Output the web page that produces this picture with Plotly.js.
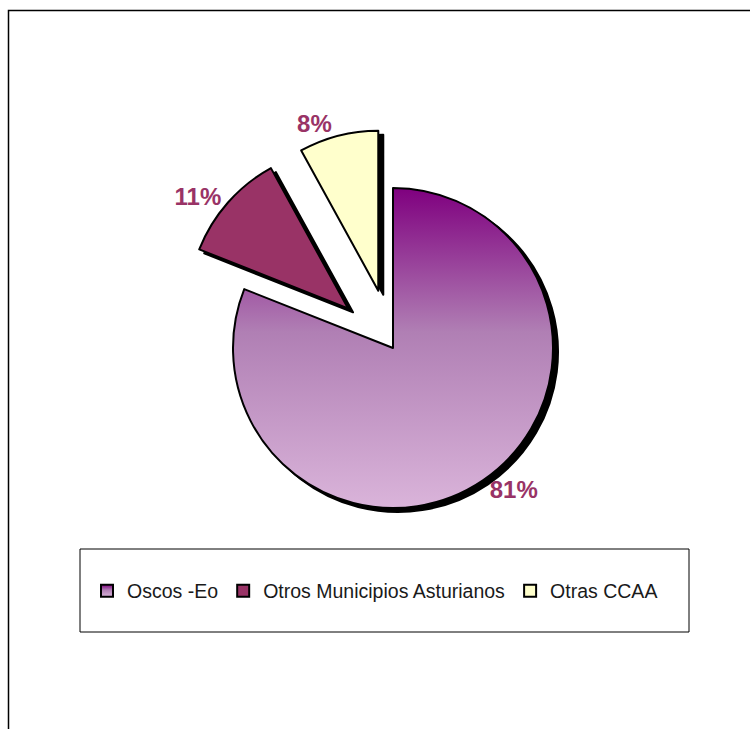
<!DOCTYPE html>
<html>
<head>
<meta charset="utf-8">
<script src="https://cdn.plot.ly/plotly-3.0.1.min.js"></script>
<style>
  html, body { margin: 0; padding: 0; background: #fff; }
  #chart { width: 750px; height: 729px; }
</style>
</head>
<body>
<div id="chart"></div>
<script>
// ---- data ----
const labels = ["Oscos -Eo", "Otros Municipios Asturianos", "Otras CCAA"];
const values = [81, 11, 8];
const sliceColors = ["#b185b6", "#993366", "#ffffcc"];
const pulls = [0, 0.375, 0.37];

// ---- geometry (pixels) ----
const W = 750, H = 729;
const cx = 393, cy = 348, r = 160;
const half = r * (1 + Math.max(...pulls));
const dom = (ox, oy) => ({
  x: [(cx + ox - half) / W, (cx + ox + half) / W],
  y: [1 - (cy + oy + half) / H, 1 - (cy + oy - half) / H]
});

const font = "Liberation Sans, Arial, sans-serif";

const shadow = {
  type: "pie",
  labels: labels,
  values: values,
  pull: pulls,
  sort: false,
  direction: "clockwise",
  rotation: 0,
  domain: dom(5, 4),
  marker: { colors: labels.map(() => "#000000"), line: { color: "#000000", width: 2 } },
  textinfo: "none",
  hoverinfo: "skip",
  showlegend: false
};

const main = {
  type: "pie",
  labels: labels,
  values: values,
  pull: pulls,
  sort: false,
  direction: "clockwise",
  rotation: 0,
  domain: dom(0, 0),
  marker: { colors: sliceColors, line: { color: "#000000", width: 2 } },
  texttemplate: "%{percent:.0%}",
  textposition: "outside",
  outsidetextfont: { family: font, size: 24, color: "#993366", weight: "bold" },
  hoverinfo: "label+percent",
  showlegend: true
};

const layout = {
  width: W,
  height: H,
  margin: { l: 0, r: 0, t: 0, b: 0 },
  paper_bgcolor: "#ffffff",
  plot_bgcolor: "#ffffff",
  showlegend: true,
  legend: {
    orientation: "h",
    x: 0.5, xanchor: "center",
    y: 1 - 591 / H, yanchor: "middle",
    bgcolor: "rgba(0,0,0,0)",
    borderwidth: 0,
    font: { family: font, size: 19.5, color: "#1a1a1a" },
    traceorder: "normal"
  },
  shapes: [
    { type: "rect", xref: "paper", yref: "paper",
      x0: 80 / W, x1: 689 / W, y0: 1 - 632 / H, y1: 1 - 549 / H,
      line: { color: "#000000", width: 1 }, fillcolor: "rgba(0,0,0,0)" },
    { type: "rect", xref: "paper", yref: "paper",
      x0: 8.5 / W, x1: 1.05, y0: -0.05, y1: 1 - 10.5 / H,
      line: { color: "#000000", width: 1.5 }, fillcolor: "rgba(0,0,0,0)" }
  ]
};

function applyGradient(gd) {
  const svg = gd.querySelector("svg.main-svg");
  if (!svg) return;
  let defs = svg.querySelector("defs");
  if (!defs) { defs = document.createElementNS("http://www.w3.org/2000/svg", "defs"); svg.insertBefore(defs, svg.firstChild); }
  if (!svg.querySelector("#oscosGrad")) {
    const g = document.createElementNS("http://www.w3.org/2000/svg", "linearGradient");
    g.setAttribute("id", "oscosGrad");
    g.setAttribute("x1", "0"); g.setAttribute("y1", "0");
    g.setAttribute("x2", "0"); g.setAttribute("y2", "1");
    [["0", "#7f007f"], ["0.45", "#b07fb4"], ["1", "#dab4da"]].forEach(([o, c]) => {
      const s = document.createElementNS("http://www.w3.org/2000/svg", "stop");
      s.setAttribute("offset", o); s.setAttribute("stop-color", c);
      g.appendChild(s);
    });
    defs.appendChild(g);
  }
  const pies = Array.from(gd.querySelectorAll(".pielayer g.trace"));
  if (pies.length >= 2) {
    const slice = pies[1].querySelector("g.slice path.surface");
    if (slice) slice.style.fill = "url(#oscosGrad)";
  }
  const leg = gd.querySelector(".legend g.traces .legendpoints path");
  if (leg) leg.style.fill = "url(#oscosGrad)";
}

const gd = document.getElementById("chart");
Plotly.newPlot(gd, [shadow, main], layout, { staticPlot: true, displayModeBar: false })
  .then(() => {
    applyGradient(gd);
    gd.on && gd.on("plotly_afterplot", () => applyGradient(gd));
  });
</script>
</body>
</html>
